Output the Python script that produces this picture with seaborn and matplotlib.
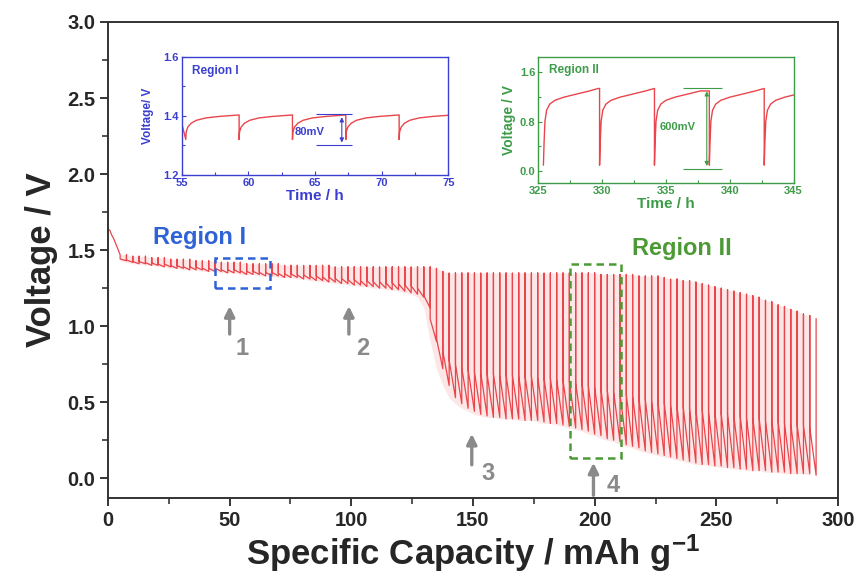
import numpy as np
import matplotlib
matplotlib.use("Agg")
import matplotlib.pyplot as plt
import seaborn as sns
from matplotlib.patches import Rectangle
from matplotlib.ticker import MultipleLocator, FormatStrFormatter

sns.set_style("ticks")
plt.rcParams['font.family'] = ['Liberation Sans', 'DejaVu Sans']
plt.rcParams['font.weight'] = 'bold'
plt.rcParams['mathtext.fontset'] = 'custom'
plt.rcParams['mathtext.rm'] = 'Liberation Sans:bold'
plt.rcParams['mathtext.it'] = 'Liberation Sans:bold'
plt.rcParams['mathtext.bf'] = 'Liberation Sans:bold'

RED = '#e8464c'
BLUE = '#3b3fd0'
GREEN = '#3d9c48'
GRAY = '#8a8a8a'

# ---- main GITT curve ----
start_cap = [0.0, 0.8, 1.5, 2.2, 3.0, 4.0, 5.0]
start_volt = [1.64, 1.63, 1.60, 1.58, 1.55, 1.51, 1.47]

first_pulse = 5.0   # mAh/g where the first pulse starts
pulse_step = 2.6    # mAh/g passed in each pulse

# relaxed voltage before each pulse (last one = end of final rest)
pulse_top = [
    1.47, 1.47, 1.46, 1.46, 1.46, 1.45, 1.45, 1.45, 1.44, 1.44,
    1.44, 1.44, 1.43, 1.43, 1.43, 1.43, 1.42, 1.42, 1.42, 1.42,
    1.41, 1.41, 1.41, 1.41, 1.41, 1.41, 1.40, 1.40, 1.40, 1.40,
    1.40, 1.40, 1.40, 1.40, 1.39, 1.39, 1.39, 1.39, 1.39, 1.39,
    1.39, 1.39, 1.39, 1.39, 1.39, 1.39, 1.39, 1.39, 1.39, 1.39,
    1.38, 1.36, 1.35, 1.35, 1.35, 1.35, 1.35, 1.35, 1.35, 1.35,
    1.35, 1.35, 1.35, 1.35, 1.35, 1.35, 1.35, 1.35, 1.35, 1.35,
    1.35, 1.35, 1.35, 1.35, 1.35, 1.35, 1.34, 1.34, 1.34, 1.34,
    1.34, 1.34, 1.33, 1.33, 1.33, 1.33, 1.32, 1.31, 1.31, 1.30,
    1.30, 1.29, 1.28, 1.27, 1.26, 1.25, 1.24, 1.23, 1.22, 1.21,
    1.20, 1.19, 1.17, 1.16, 1.14, 1.13, 1.11, 1.10, 1.08, 1.07,
    1.05,
]
# voltage at the end of each pulse
pulse_bottom = [
    1.43, 1.42, 1.41, 1.41, 1.40, 1.40, 1.39, 1.39, 1.38, 1.38,
    1.37, 1.37, 1.37, 1.36, 1.36, 1.36, 1.35, 1.35, 1.35, 1.34,
    1.34, 1.34, 1.33, 1.33, 1.33, 1.32, 1.32, 1.32, 1.31, 1.31,
    1.30, 1.30, 1.29, 1.29, 1.28, 1.28, 1.27, 1.27, 1.26, 1.26,
    1.25, 1.25, 1.24, 1.24, 1.23, 1.22, 1.21, 1.19, 1.12, 0.90,
    0.72, 0.61, 0.53, 0.49, 0.46, 0.44, 0.42, 0.41, 0.40, 0.40,
    0.39, 0.39, 0.39, 0.38, 0.38, 0.38, 0.37, 0.36, 0.36, 0.35,
    0.34, 0.33, 0.32, 0.31, 0.29, 0.28, 0.26, 0.25, 0.24, 0.22,
    0.21, 0.20, 0.18, 0.17, 0.16, 0.15, 0.14, 0.13, 0.12, 0.11,
    0.10, 0.09, 0.09, 0.08, 0.08, 0.07, 0.07, 0.06, 0.06, 0.05,
    0.05, 0.05, 0.04, 0.04, 0.04, 0.03, 0.03, 0.03, 0.03, 0.02,
]
ir_share = 0.7  # part of each pulse drop that is instant (IR drop)

# ---- inset Region I ----
r1_drops = [55.3, 59.3, 63.3, 67.3, 71.3]
r1_rec_t = [0.0, 0.03, 0.15, 0.4, 0.8, 1.5, 2.5, 4.0]
r1_rec_v = [1.32, 1.345, 1.362, 1.375, 1.385, 1.393, 1.398, 1.403]
r1_before = (55.0, 1.375)

# ---- inset Region II ----
r2_drops = [325.4, 329.8, 334.1, 338.4, 342.7]
r2_rec_t = [0.0, 0.05, 0.12, 0.25, 0.5, 0.9, 1.6, 2.6, 3.6, 4.3]
r2_rec_v = [0.10, 0.45, 0.80, 0.98, 1.08, 1.14, 1.19, 1.24, 1.29, 1.33]

# ---- annotation arrows ----
arrow_x = [50, 99, 149.5, 199.5]
arrow_y0 = [0.93, 0.93, 0.07, -0.13]
arrow_y1 = [1.15, 1.15, 0.31, 0.12]
arrow_lbl = ['1', '2', '3', '4']
lbl_x = [55, 104.5, 156, 207.5]
lbl_y = [0.85, 0.85, 0.03, -0.05]


def gitt_path():
    caps, volts = list(start_cap), list(start_volt)
    for i, lo in enumerate(pulse_bottom):
        hi = pulse_top[i]
        x0 = first_pulse + i * pulse_step
        x1 = x0 + pulse_step
        caps += [x0, x0, x1, x1]
        volts += [hi, lo + (1 - ir_share) * (hi - lo), lo, pulse_top[i + 1]]
    return np.array(caps), np.array(volts)


def rest_path(drops, rec_t, rec_v, before=None):
    ts, vs = [], []
    if before is not None:
        ts.append(before[0])
        vs.append(before[1])
    for k, d in enumerate(drops):
        period = drops[k + 1] - d if k + 1 < len(drops) else np.inf
        for t, v in zip(rec_t, rec_v):
            if t <= period:
                ts.append(d + t)
                vs.append(v)
        if k + 1 < len(drops) and ts[-1] < d + period:
            ts.append(d + period)
            vs.append(vs[-1])
    return np.array(ts), np.array(vs)


fig = plt.figure(figsize=(8.61, 5.82), dpi=100)
ax = fig.add_axes([0.1254, 0.1443, 0.8479, 0.8179])

caps, volts = gitt_path()
pulse_x = first_pulse + pulse_step * np.arange(len(pulse_bottom) + 1)
ax.fill_between(pulse_x[:-1], pulse_bottom, pulse_top[:-1], color='#fde6e6', lw=0, zorder=1)
sns.lineplot(x=caps, y=volts, sort=False, estimator=None, color=RED, lw=0.9, ax=ax, zorder=2)

ax.set_xlim(0, 300)
ax.set_ylim(-0.13, 3.0)
ax.xaxis.set_major_locator(MultipleLocator(50))
ax.xaxis.set_minor_locator(MultipleLocator(25))
ax.yaxis.set_major_locator(MultipleLocator(0.5))
ax.yaxis.set_minor_locator(MultipleLocator(0.25))
ax.yaxis.set_major_formatter(FormatStrFormatter('%.1f'))
ax.tick_params(which='major', direction='out', length=6, width=1.3, labelsize=14.5, pad=3)
ax.tick_params(which='minor', direction='out', length=4, width=1.1)
for s in ax.spines.values():
    s.set_linewidth(1.4)
    s.set_color('#333333')
ax.set_xlabel('Specific Capacity / mAh g$^{-1}$', fontsize=25, fontweight='bold', labelpad=2)
ax.set_ylabel('Voltage / V', fontsize=25, fontweight='bold', labelpad=7)

# region boxes and labels
ax.add_patch(Rectangle((44, 1.25), 22.5, 0.195, fill=False, ls=(0, (3, 2)), lw=1.8, ec='#2f62d6', zorder=3))
ax.text(18.5, 1.58, 'Region I', color='#2f62d6', fontsize=17, fontweight='bold', va='center')
ax.add_patch(Rectangle((190, 0.13), 21, 1.28, fill=False, ls=(0, (3, 2)), lw=1.8, ec='#4c9a35', zorder=3))
ax.text(215.5, 1.51, 'Region II', color='#4c9a35', fontsize=17, fontweight='bold', va='center')

for x, y0, y1, lbl, lx, ly in zip(arrow_x, arrow_y0, arrow_y1, arrow_lbl, lbl_x, lbl_y):
    ax.annotate('', xy=(x, y1), xytext=(x, y0),
                arrowprops=dict(arrowstyle='-|>,head_width=0.3,head_length=0.6', color=GRAY, lw=2.4),
                annotation_clip=False)
    ax.text(lx, ly, lbl, color=GRAY, fontsize=17, fontweight='bold', va='center', ha='center')


def style_inset(a, color):
    for s in a.spines.values():
        s.set_color(color)
        s.set_linewidth(1.0)
    a.tick_params(which='both', direction='in', colors=color, labelsize=8, width=0.8, pad=2)
    a.tick_params(which='major', length=3)
    a.tick_params(which='minor', length=2)
    for t in a.get_xticklabels() + a.get_yticklabels():
        t.set_fontweight('bold')


# inset Region I
ax1 = fig.add_axes([0.2111, 0.6993, 0.3098, 0.2033])
t1, v1 = rest_path(r1_drops, r1_rec_t, r1_rec_v, r1_before)
sns.lineplot(x=t1, y=v1, sort=False, estimator=None, color=RED, lw=1.0, ax=ax1)
ax1.set_xlim(55, 75)
ax1.set_ylim(1.2, 1.6)
ax1.xaxis.set_major_locator(MultipleLocator(5))
ax1.xaxis.set_minor_locator(MultipleLocator(2.5))
ax1.yaxis.set_major_locator(MultipleLocator(0.2))
ax1.yaxis.set_minor_locator(MultipleLocator(0.1))
ax1.yaxis.set_major_formatter(FormatStrFormatter('%.1f'))
style_inset(ax1, BLUE)
ax1.set_xlabel('Time / h', color=BLUE, fontsize=11, fontweight='bold', labelpad=1)
ax1.set_ylabel('Voltage/ V', color=BLUE, fontsize=8.5, fontweight='bold', labelpad=7)
ax1.text(0.04, 0.88, 'Region I', transform=ax1.transAxes, color=BLUE, fontsize=8.5, fontweight='bold', va='center')
ax1.hlines([1.405, 1.30], 65.1, 67.8, color=BLUE, lw=0.8)
ax1.annotate('', xy=(67.0, 1.405), xytext=(67.0, 1.30),
             arrowprops=dict(arrowstyle='<|-|>,head_width=0.12,head_length=0.25', color=BLUE, lw=0.8))
ax1.text(63.5, 1.345, '80mV', color=BLUE, fontsize=8, fontweight='bold', va='center')

# inset Region II
ax2 = fig.add_axes([0.6252, 0.6851, 0.2965, 0.2165])
t2, v2 = rest_path(r2_drops, r2_rec_t, r2_rec_v)
sns.lineplot(x=t2, y=v2, sort=False, estimator=None, color=RED, lw=1.0, ax=ax2)
ax2.set_xlim(325, 345)
ax2.set_ylim(-0.19, 1.83)
ax2.xaxis.set_major_locator(MultipleLocator(5))
ax2.xaxis.set_minor_locator(MultipleLocator(2.5))
ax2.yaxis.set_major_locator(MultipleLocator(0.8))
ax2.yaxis.set_minor_locator(MultipleLocator(0.4))
ax2.yaxis.set_major_formatter(FormatStrFormatter('%.1f'))
style_inset(ax2, GREEN)
ax2.set_xlabel('Time / h', color=GREEN, fontsize=11, fontweight='bold', labelpad=1)
ax2.set_ylabel('Voltage / V', color=GREEN, fontsize=10, fontweight='bold', labelpad=3)
ax2.text(0.04, 0.9, 'Region II', transform=ax2.transAxes, color=GREEN, fontsize=8.5, fontweight='bold', va='center')
ax2.hlines([1.33, 0.04], 336.3, 339.4, color=GREEN, lw=0.8)
ax2.annotate('', xy=(338.2, 1.33), xytext=(338.2, 0.04),
             arrowprops=dict(arrowstyle='<|-|>,head_width=0.12,head_length=0.25', color=GREEN, lw=0.8))
ax2.text(334.5, 0.72, '600mV', color=GREEN, fontsize=8, fontweight='bold', va='center')

fig.savefig('out.png', dpi=100)
